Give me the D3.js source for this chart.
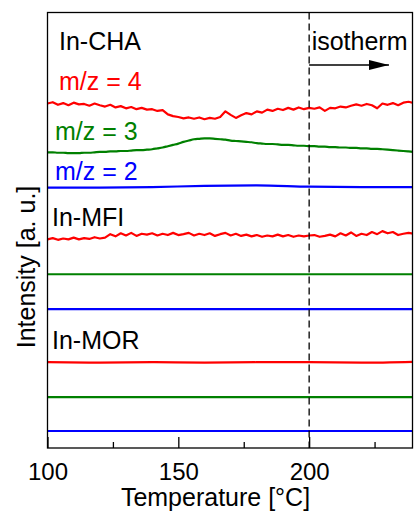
<!DOCTYPE html>
<html>
<head>
<meta charset="utf-8">
<script src="https://cdn.jsdelivr.net/npm/d3@7"></script>
<style>
  html, body { margin: 0; padding: 0; background: #fff; }
  svg text { font-family: "Liberation Sans", Arial, sans-serif; }
</style>
</head>
<body>
<svg id="chart" width="414" height="511"></svg>
<script>
// fine grid (2 degC) for the noisy / curved traces, coarse grid for the flat ones
var fineT = d3.range(100, 241, 2);
var coarseT = [100, 120, 140, 160, 180, 200, 220, 240];

var xTicks = [100, 150, 200];
var xMinor = [125, 175, 225];

// In-CHA
var chaM4 = [
  79.1, 79.4, 78.8, 79.2, 78.7, 79.3, 78.9, 79.0, 78.6, 79.1,
  78.7, 78.4, 78.8, 78.2, 78.5, 78.0, 78.3, 77.8, 78.1, 77.7,
  77.8, 77.4, 77.6, 76.6, 76.2, 76.0, 75.7, 75.9, 75.6, 75.9,
  75.5, 75.8, 75.6, 76.0, 77.3, 76.5, 75.8, 76.4, 76.9, 76.6,
  77.3, 77.0, 77.7, 77.4, 77.9, 77.6, 78.1, 77.7, 78.2, 77.8,
  78.1, 77.9, 78.2, 77.4, 78.1, 78.0, 78.4, 78.2, 78.6, 78.9,
  78.6, 79.0, 78.7, 78.0, 79.1, 78.8, 79.2, 78.7, 79.3, 79.5,
  79.2
];
var chaM3 = [
  67.9, 67.9, 67.8, 67.8, 67.7, 67.7, 67.7, 67.8, 67.8, 67.9,
  68.0, 68.0, 68.1, 68.1, 68.2, 68.2, 68.3, 68.4, 68.4, 68.5,
  68.6, 68.8, 69.0, 69.3, 69.6, 69.9, 70.3, 70.6, 70.9, 71.0,
  71.1, 71.1, 71.0, 70.9, 70.8, 70.6, 70.5, 70.4, 70.3, 70.2,
  70.0, 69.9, 69.8, 69.8, 69.7, 69.6, 69.6, 69.5, 69.4, 69.4,
  69.3, 69.3, 69.2, 69.2, 69.1, 69.1, 69.0, 69.0, 68.9, 68.9,
  68.8, 68.8, 68.7, 68.7, 68.6, 68.5, 68.4, 68.3, 68.2, 68.1,
  68.0
];
var chaM2 = [59.8, 59.8, 59.9, 60.2, 60.3, 60.0, 59.9, 59.9];

// In-MFI
var mfiM4 = [
  47.9, 48.2, 47.8, 48.1, 47.9, 48.3, 47.9, 48.2, 48.0, 48.4,
  48.1, 48.3, 49.1, 48.6, 49.3, 48.8, 49.4, 48.7, 49.2, 49.0,
  49.3, 48.8, 49.2, 48.9, 49.4, 48.9, 49.1, 49.4, 48.8, 49.2,
  48.9, 49.3, 48.7, 49.1, 49.4, 48.8, 49.2, 48.7, 49.0, 48.6,
  48.9, 48.5, 48.8, 48.6, 49.0, 48.6, 48.9, 48.5, 48.8, 48.6,
  48.8, 48.9, 48.5, 48.7, 49.0, 48.6, 49.3, 48.8, 49.5, 48.7,
  49.2, 48.9, 49.6, 49.1, 49.8, 49.3, 49.6, 48.9, 49.2, 49.4,
  49.2
];
var mfiM3 = [39.9, 39.9, 39.9, 39.9, 39.9, 39.9, 39.9, 39.9];
var mfiM2 = [31.9, 31.9, 31.9, 31.9, 31.9, 31.9, 31.9, 31.9];

// In-MOR
var morM4 = [19.7, 19.6, 19.7, 19.6, 19.7, 19.7, 19.6, 19.8];
var morM3 = [11.7, 11.7, 11.7, 11.7, 11.7, 11.7, 11.7, 11.7];
var morM2 = [3.9, 3.9, 3.9, 3.9, 3.9, 3.9, 3.9, 3.9];

var colors = { m4: "#ff0000", m3: "#008000", m2: "#0000ff" };

(function () {

  // smooth: draw with a monotone curve, else straight segments (keeps the noise jagged)
  var series = [
    { t: fineT,   v: chaM4, c: colors.m4, smooth: false },
    { t: fineT,   v: chaM3, c: colors.m3, smooth: true },
    { t: coarseT, v: chaM2, c: colors.m2, smooth: true },
    { t: fineT,   v: mfiM4, c: colors.m4, smooth: false },
    { t: coarseT, v: mfiM3, c: colors.m3, smooth: true },
    { t: coarseT, v: mfiM2, c: colors.m2, smooth: true },
    { t: coarseT, v: morM4, c: colors.m4, smooth: true },
    { t: coarseT, v: morM3, c: colors.m3, smooth: true },
    { t: coarseT, v: morM2, c: colors.m2, smooth: true }
  ];

  var svg = d3.select("#chart");
  var x0 = 47.5, x1 = 412.5, y0 = 12.5, y1 = 448;

  var x = d3.scaleLinear().domain([100, 239.5]).range([x0, x1]);
  var y = d3.scaleLinear().domain([0, 100]).range([y1, y0]);

  var defs = svg.append("defs");
  defs.append("clipPath").attr("id", "clip")
    .append("rect")
    .attr("x", x0).attr("y", y0)
    .attr("width", x1 - x0).attr("height", y1 - y0);

  defs.append("marker")
    .attr("id", "arrow")
    .attr("viewBox", "0 0 20 10")
    .attr("refX", 20).attr("refY", 5)
    .attr("markerWidth", 20).attr("markerHeight", 10)
    .attr("markerUnits", "userSpaceOnUse")
    .attr("orient", "auto")
    .append("path").attr("d", "M0,0L20,5L0,10Z").attr("fill", "#000");

  var plot = svg.append("g").attr("clip-path", "url(#clip)");

  series.forEach(function(s) {
    var line = d3.line()
      .x(function(d) { return x(d[0]); })
      .y(function(d) { return y(d[1]); })
      .curve(s.smooth ? d3.curveMonotoneX : d3.curveLinear);
    var pts = s.t.map(function(t, i) { return [t, s.v[i]]; });
    plot.append("path")
      .attr("d", line(pts))
      .attr("fill", "none")
      .attr("stroke", s.c)
      .attr("stroke-width", 2.2)
      .attr("stroke-linejoin", "round");
  });

  // isotherm marker at 200 degC
  svg.append("line")
    .attr("x1", x(200)).attr("x2", x(200))
    .attr("y1", y0).attr("y2", y1)
    .attr("stroke", "#000").attr("stroke-width", 1.3)
    .attr("stroke-dasharray", "7,4");

  svg.append("line")
    .attr("x1", x(200)).attr("x2", x(230.5))
    .attr("y1", 65).attr("y2", 65)
    .attr("stroke", "#000").attr("stroke-width", 1.3)
    .attr("marker-end", "url(#arrow)");

  svg.append("text").text("isotherm")
    .attr("x", x(200) + 2.5).attr("y", 50)
    .attr("font-size", 25).attr("fill", "#000");

  // frame
  svg.append("rect")
    .attr("x", x0).attr("y", y0)
    .attr("width", x1 - x0).attr("height", y1 - y0)
    .attr("fill", "none").attr("stroke", "#000").attr("stroke-width", 1.3);

  // x axis, ticks pointing in
  var xAxis = svg.append("g").attr("transform", "translate(0," + y1 + ")")
    .call(d3.axisBottom(x).tickValues(xTicks).tickSize(-11).tickPadding(15)
      .tickFormat(d3.format("d")));
  xAxis.select(".domain").remove();
  xAxis.selectAll(".tick line").attr("stroke-width", 1.3);
  xAxis.selectAll("text")
    .attr("font-size", 24).attr("fill", "#000")
    .attr("font-family", "Liberation Sans, Arial, sans-serif");

  var minor = svg.append("g").attr("transform", "translate(0," + y1 + ")")
    .call(d3.axisBottom(x).tickValues(xMinor).tickSize(-6).tickFormat(""));
  minor.select(".domain").remove();
  minor.selectAll(".tick line").attr("stroke-width", 1.3);

  // labels
  var labels = [
    { s: "In-CHA",  x: 59, y: 50,  c: "#000" },
    { s: "m/z = 4", x: 59, y: 89.5, c: colors.m4 },
    { s: "m/z = 3", x: 55, y: 139.5, c: colors.m3 },
    { s: "m/z = 2", x: 55, y: 180, c: colors.m2 },
    { s: "In-MFI",  x: 52, y: 226, c: "#000" },
    { s: "In-MOR",  x: 52, y: 349, c: "#000" }
  ];
  svg.selectAll(".lbl").data(labels).enter().append("text")
    .attr("class", "lbl")
    .attr("x", function(d) { return d.x; })
    .attr("y", function(d) { return d.y; })
    .attr("fill", function(d) { return d.c; })
    .attr("font-size", 25)
    .text(function(d) { return d.s; });

  svg.append("text").text("Temperature [\u00B0C]")
    .attr("x", 215.5).attr("y", 506)
    .attr("text-anchor", "middle")
    .attr("font-size", 25).attr("fill", "#000");

  svg.append("text").text("Intensity [a. u.]")
    .attr("transform", "translate(35,267) rotate(-90)")
    .attr("text-anchor", "middle")
    .attr("font-size", 25).attr("fill", "#000");

})();
</script>
</body>
</html>
